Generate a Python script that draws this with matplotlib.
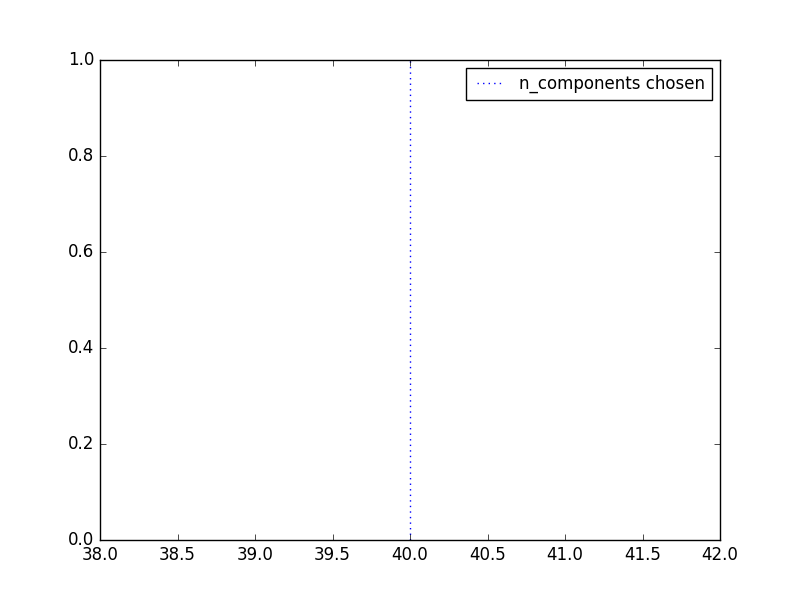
import matplotlib
matplotlib.use('Agg')
import matplotlib.pyplot as plt

plt.style.use('classic')

# chosen number of components
n_components_chosen = 40
x_limits = [38, 42]
y_limits = [0, 1]

fig = plt.figure(figsize=(8, 6), dpi=100)
ax = fig.add_subplot(111)
ax.axvline(n_components_chosen, linestyle=':', color='b', label='n_components chosen')
ax.set_xlim(x_limits)
ax.set_ylim(y_limits)
ax.legend(loc='upper right', prop=dict(size=12))
fig.savefig('out.png', dpi=100)
